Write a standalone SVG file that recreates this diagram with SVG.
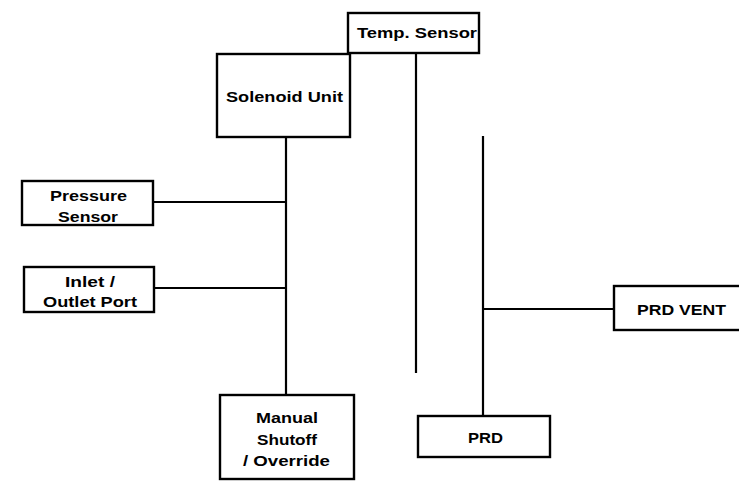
<svg xmlns="http://www.w3.org/2000/svg" width="739" height="482" viewBox="0 0 739 482">
<style>
.box{fill:#fff;stroke:#000;stroke-width:2.4}
.ln{stroke:#000;stroke-width:2.2;fill:none}
text{font-family:"Liberation Sans",Arial,sans-serif;font-size:15px;font-weight:bold;fill:#000;text-anchor:middle}
</style>
<rect width="739" height="482" fill="#fff"/>
<g id="connectors">
<line class="ln" x1="286" y1="137" x2="286" y2="395"/>
<line class="ln" x1="153" y1="202" x2="286" y2="202"/>
<line class="ln" x1="154" y1="288" x2="286" y2="288"/>
<line class="ln" x1="416" y1="53" x2="416" y2="373"/>
<line class="ln" x1="483" y1="136" x2="483" y2="416"/>
<line class="ln" x1="483" y1="309" x2="614" y2="309"/>
</g>
<g id="solenoid">
<rect class="box" x="217" y="54" width="133" height="83"/>
<text x="284.5" y="102" textLength="117" lengthAdjust="spacingAndGlyphs">Solenoid Unit</text>
</g>
<g id="temp">
<rect class="box" x="348" y="13" width="131" height="40"/>
<text x="417" y="38" textLength="120" lengthAdjust="spacingAndGlyphs">Temp. Sensor</text>
</g>
<g id="pressure">
<rect class="box" x="22" y="181" width="131" height="44"/>
<text x="88.5" y="201" textLength="77" lengthAdjust="spacingAndGlyphs">Pressure</text>
<text x="88" y="222" textLength="60" lengthAdjust="spacingAndGlyphs">Sensor</text>
</g>
<g id="inlet">
<rect class="box" x="24" y="267" width="130" height="45"/>
<text x="90" y="287" textLength="50" lengthAdjust="spacingAndGlyphs">Inlet /</text>
<text x="90" y="307" textLength="94" lengthAdjust="spacingAndGlyphs">Outlet Port</text>
</g>
<g id="manual">
<rect class="box" x="220" y="395" width="134" height="84"/>
<text x="287" y="423" textLength="62" lengthAdjust="spacingAndGlyphs">Manual</text>
<text x="287" y="445" textLength="60" lengthAdjust="spacingAndGlyphs">Shutoff</text>
<text x="286.5" y="466" textLength="87" lengthAdjust="spacingAndGlyphs">/ Override</text>
</g>
<g id="prd">
<rect class="box" x="418" y="416" width="132" height="41"/>
<text x="485.5" y="443" textLength="35" lengthAdjust="spacingAndGlyphs">PRD</text>
</g>
<g id="prdvent">
<rect class="box" x="614" y="286" width="140" height="44"/>
<text x="681.5" y="315" textLength="89" lengthAdjust="spacingAndGlyphs">PRD VENT</text>
</g>
</svg>
